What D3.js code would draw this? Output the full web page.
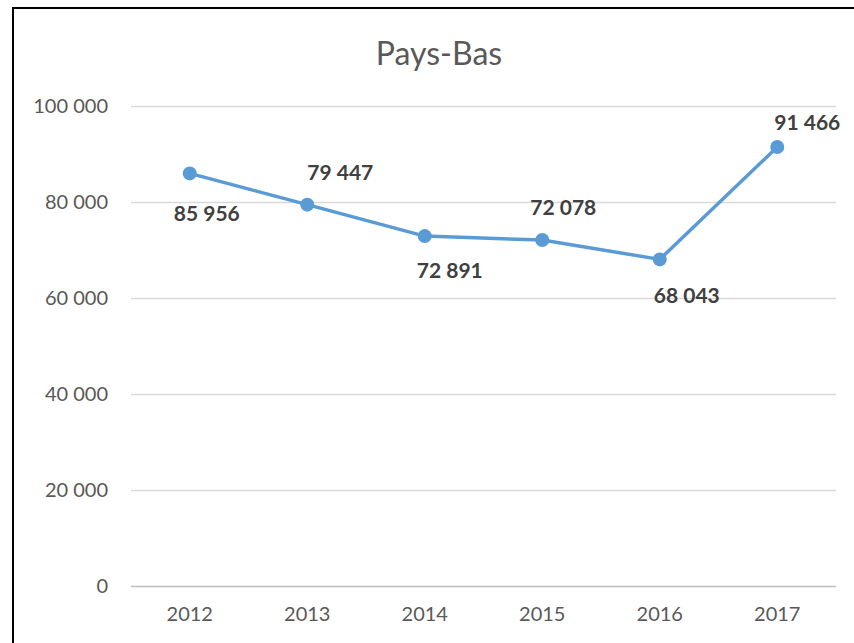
<!DOCTYPE html>
<html>
<head>
<meta charset="utf-8">
<script src="https://cdn.jsdelivr.net/npm/d3@7"></script>
<style>
  body { margin: 0; background: #fff; }
  svg { display: block; font-family: Lato, "Open Sans", sans-serif; }
</style>
</head>
<body>
<div id="chart"></div>
<script>
// chart data
var years = ["2012", "2013", "2014", "2015", "2016", "2017"];
var values = [85956, 79447, 72891, 72078, 68043, 91466];
var yTicks = [0, 20000, 40000, 60000, 80000, 100000];
var title = "Pays-Bas";

// label placement (offsets from the point, in px)
var labelDx = [17, 33, 25, 21, 27, 30];
var labelDy = [40, -32, 35, -32, 36, -24];

var W = 854, H = 643;
var margin = {top: 106, right: 18, bottom: 57, left: 131},
    width = 836 - margin.left,
    height = 586 - margin.top;

var svg = d3.select("#chart")
  .append("svg")
    .attr("width", W)
    .attr("height", H);

// outer frame (only top and left visible in the crop)
svg.append("rect")
  .attr("x", 13).attr("y", 8)
  .attr("width", 900).attr("height", 700)
  .attr("fill", "none")
  .attr("stroke", "#000")
  .attr("stroke-width", 2);

svg.append("text")
  .attr("x", 439)
  .attr("y", 65)
  .attr("text-anchor", "middle")
  .attr("fill", "#595959")
  .style("font-size", "32px")
  .text(title);

var g = svg.append("g")
  .attr("transform", "translate(" + margin.left + "," + margin.top + ")");

var x = d3.scaleBand()
  .domain(years)
  .range([0, width]);

var y = d3.scaleLinear()
  .domain([0, 100000])
  .range([height, 0]);

var fmt = function(d) { return d3.format(",")(d).replace(/,/g, " "); };

// gridlines + y labels
var yAxis = g.append("g")
  .call(d3.axisLeft(y)
    .tickValues(yTicks)
    .tickSize(-width)
    .tickPadding(23)
    .tickFormat(fmt));
yAxis.select(".domain").remove();
yAxis.selectAll(".tick line")
  .attr("stroke", function(d) { return d === 0 ? "#bfbfbf" : "#d9d9d9"; })
  .attr("stroke-width", 1.5);
yAxis.selectAll(".tick text")
  .attr("fill", "#595959")
  .style("font-size", "20px")
  .style("font-family", "Lato, sans-serif");

// x labels
var xAxis = g.append("g")
  .attr("transform", "translate(0," + height + ")")
  .call(d3.axisBottom(x).tickSize(0).tickPadding(21));
xAxis.select(".domain").remove();
xAxis.selectAll(".tick text")
  .attr("fill", "#595959")
  .style("font-size", "20px")
  .style("font-family", "Lato, sans-serif");

var cx = function(d, i) { return x(years[i]) + x.bandwidth() / 2; };

g.append("path")
  .datum(values)
  .attr("fill", "none")
  .attr("stroke", "#5b9bd5")
  .attr("stroke-width", 3.5)
  .attr("stroke-linejoin", "round")
  .attr("d", d3.line()
    .x(cx)
    .y(function(d) { return y(d); }));

g.selectAll("circle")
  .data(values)
  .enter().append("circle")
    .attr("cx", cx)
    .attr("cy", function(d) { return y(d); })
    .attr("r", 7)
    .attr("fill", "#5b9bd5");

g.selectAll(".lbl")
  .data(values)
  .enter().append("text")
    .attr("class", "lbl")
    .attr("x", function(d, i) { return cx(d, i) + labelDx[i]; })
    .attr("y", function(d, i) { return y(d) + labelDy[i]; })
    .attr("dy", "0.35em")
    .attr("text-anchor", "middle")
    .attr("fill", "#404040")
    .style("font-size", "21px")
    .style("font-weight", "bold")
    .text(fmt);
</script>
</body>
</html>
